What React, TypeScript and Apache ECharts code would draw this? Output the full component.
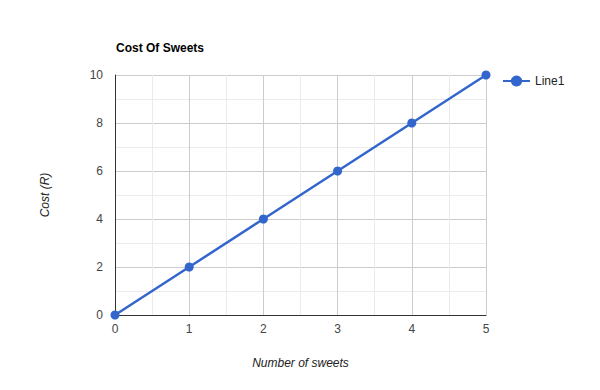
import React, { useEffect, useRef } from "react";
import * as echarts from "echarts";

const xValues = [0, 1, 2, 3, 4, 5];
const yValues = [0, 2, 4, 6, 8, 10];
const seriesName = "Line1";
const titleText = "Cost Of Sweets";
const xTitle = "Number of sweets";
const yTitle = "Cost (R)";

const FONT = "Arial, 'Liberation Sans', sans-serif";

export default function App() {
  const ref = useRef<HTMLDivElement>(null);
  useEffect(() => {
    const chart = echarts.init(ref.current!, null, { renderer: "svg" });
    chart.setOption({
      animation: false,
      backgroundColor: "#fff",
      textStyle: { fontFamily: FONT },
      title: {
        text: titleText,
        left: 111,
        top: 37,
        textStyle: { fontSize: 12, fontWeight: "bold", color: "#000", fontFamily: FONT },
      },
      legend: {
        data: [seriesName],
        left: 497,
        top: 70,
        itemWidth: 27,
        itemHeight: 14,
        itemGap: 6,
        textStyle: { fontSize: 12, color: "#222", fontFamily: FONT },
      },
      grid: { left: 115, right: 114, top: 75, bottom: 75, containLabel: false },
      xAxis: {
        type: "value",
        min: 0,
        max: 5,
        interval: 1,
        name: xTitle,
        nameLocation: "middle",
        nameGap: 42,
        nameTextStyle: { fontStyle: "italic", fontSize: 12, color: "#222", fontFamily: FONT },
        axisLine: { show: true, onZero: false, lineStyle: { color: "#333", width: 1 } },
        axisTick: { show: false },
        axisLabel: { fontSize: 12, color: "#444", margin: 8, fontFamily: FONT },
        splitLine: { show: true, lineStyle: { color: "#cccccc", width: 1 } },
        minorTick: { show: false, splitNumber: 2 },
        minorSplitLine: { show: true, lineStyle: { color: "#ebebeb", width: 1 } },
      },
      yAxis: {
        type: "value",
        min: 0,
        max: 10,
        interval: 2,
        name: yTitle,
        nameLocation: "middle",
        nameGap: 64,
        nameRotate: 90,
        nameTextStyle: { fontStyle: "italic", fontSize: 12, color: "#222", fontFamily: FONT },
        axisLine: { show: true, onZero: false, lineStyle: { color: "#333", width: 1 } },
        axisTick: { show: false },
        axisLabel: { fontSize: 12, color: "#444", margin: 12, fontFamily: FONT },
        splitLine: { show: true, lineStyle: { color: "#cccccc", width: 1 } },
        minorTick: { show: false, splitNumber: 2 },
        minorSplitLine: { show: true, lineStyle: { color: "#ebebeb", width: 1 } },
      },
      series: [
        {
          name: seriesName,
          type: "line",
          data: xValues.map((x, i) => [x, yValues[i]]),
          color: "#3366cc",
          lineStyle: { width: 2.5, color: "#3366cc" },
          symbol: "circle",
          symbolSize: 9,
          itemStyle: { color: "#3366cc" },
          showSymbol: true,
        },
      ],
    });
    return () => chart.dispose();
  }, []);
  return (
    <div
      ref={ref}
      style={{ position: "fixed", left: 0, top: 0, width: 600, height: 390 }}
    />
  );
}
